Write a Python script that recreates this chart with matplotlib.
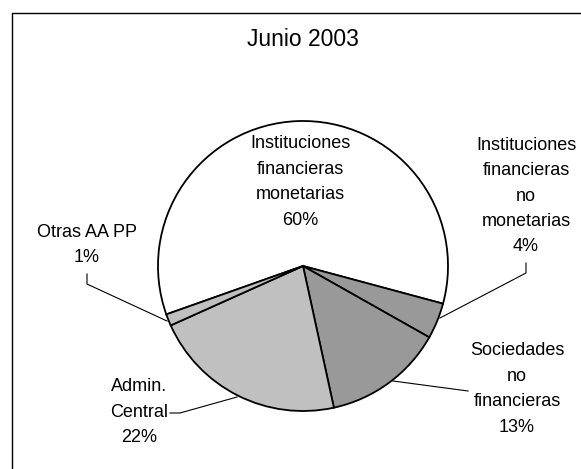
import matplotlib
matplotlib.use("Agg")
import matplotlib.pyplot as plt

plt.rcParams['font.family'] = ['Liberation Sans', 'DejaVu Sans']

# Data
categories = ["Instituciones\nfinancieras\nmonetarias",
              "Instituciones\nfinancieras\nno\nmonetarias",
              "Sociedades\nno\nfinancieras",
              "Admin.\nCentral",
              "Otras AA PP"]
values = [59.6, 4.0, 13.4, 21.7, 1.3]
pct_labels = ["60%", "4%", "13%", "22%", "1%"]
colors = ["#FFFFFF", "#999999", "#999999", "#C0C0C0", "#C0C0C0"]
title = "Junio 2003"

W, H = 581, 469
fig = plt.figure(figsize=(W / 100, H / 100), dpi=100)
ax = fig.add_axes([0, 0, 1, 1])

def Y(y):
    return H - y

cx, cy, R = 303, 266, 145
ax.pie(values, colors=colors, startangle=199.5, counterclock=False,
       center=(cx, Y(cy)), radius=R,
       wedgeprops=dict(edgecolor='black', linewidth=1.3))
ax.set_xlim(0, W)
ax.set_ylim(0, H)
ax.set_aspect('equal')
ax.axis('off')

# frame (cropped on right/bottom)
ax.plot([12, 12, W + 5], [Y(H + 5), Y(13), Y(13)], color='black', lw=1.0,
        clip_on=False)

ax.text(303, Y(39), title, ha='center', va='center', fontsize=16.5)

fs = 13
ls = 1.65
label_pos = [(300, 182), (526, 196), (517, 389), (139, 412), (87, 245)]
for cat, pct, (lx, ly) in zip(categories, pct_labels, label_pos):
    ax.text(lx, Y(ly), cat + "\n" + pct, ha='center', va='center',
            fontsize=fs, linespacing=ls)

lk = dict(color='black', lw=0.8)
# 4% leader
ax.plot([526, 526, 440], [Y(263), Y(273), Y(318)], **lk)
# 13% leader
ax.plot([468, 393], [Y(391), Y(381)], **lk)
# 22% leader
ax.plot([170, 180, 237], [Y(413), Y(413), Y(397)], **lk)
# 1% leader
ax.plot([87, 87, 167], [Y(274), Y(284), Y(321)], **lk)

fig.savefig("out.png", dpi=100)
